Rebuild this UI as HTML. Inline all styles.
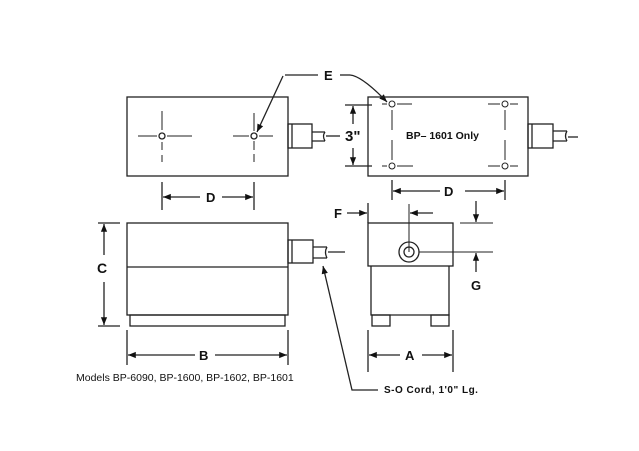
<!DOCTYPE html>
<html><head><style>body{margin:0;background:#fff}svg{display:block}text{font-family:"Liberation Sans",sans-serif;fill:#111}</style></head><body>
<svg width="639" height="451" viewBox="0 0 639 451" xmlns="http://www.w3.org/2000/svg">
<defs><marker id="a" viewBox="0 0 10 10" refX="10" refY="5" markerWidth="9" markerHeight="6" orient="auto-start-reverse"><path d="M0,1 L10,5 L0,9z" fill="#111"/></marker></defs>
<g stroke="#222" stroke-width="1.3" fill="none">
<rect x="127" y="97" width="161" height="79"/>
<rect x="288" y="124" width="24" height="24"/><line x1="292" y1="124" x2="292" y2="148"/>
<path d="M312 132 H325 M312 141 H325 M325 132 q-3 4 0 9"/><line x1="326" y1="136" x2="340" y2="136"/>
<circle cx="162" cy="136" r="3"/><circle cx="254" cy="136" r="3"/>
<g stroke-width="1"><path d="M138 136 H157 M167 136 H192 M162 111 V130 M162 142 V150 M162 155 V162"/>
<path d="M233 136 H249 M259 136 H273 M254 113 V131 M254 141 V150 M254 154 V162"/></g>
<line x1="162" y1="182" x2="162" y2="210"/><line x1="254" y1="182" x2="254" y2="210"/>
<line x1="163" y1="197" x2="200" y2="197" marker-start="url(#a)"/><line x1="222" y1="197" x2="253" y2="197" marker-end="url(#a)"/>
<path d="M285 75 H318" /><line x1="283" y1="76" x2="257" y2="132" marker-end="url(#a)"/>
<path d="M340 75 H350"/><path d="M350 75 Q362 76 387 102" marker-end="url(#a)"/>
<rect x="368" y="97" width="160" height="79"/>
<rect x="528" y="124" width="25" height="24"/><line x1="532" y1="124" x2="532" y2="148"/>
<path d="M553 131 H567 M553 141 H567 M567 131 q-3 5 0 10"/><line x1="568" y1="137" x2="578" y2="137"/>
<g stroke-width="1">
<circle cx="392" cy="104" r="3"/><circle cx="505" cy="104" r="3"/><circle cx="392" cy="166" r="3"/><circle cx="505" cy="166" r="3"/>
<path d="M382 104 H387 M397 104 H412 M392 110 V130 M392 140 V160 M382 166 H387 M397 166 H413"/>
<path d="M488 104 H500 M510 104 H518 M505 110 V130 M505 140 V160 M488 166 H500 M510 166 H518"/>
</g>
<line x1="345" y1="105" x2="372" y2="105"/><line x1="345" y1="166" x2="372" y2="166"/>
<line x1="353" y1="124" x2="353" y2="106" marker-end="url(#a)"/><line x1="353" y1="148" x2="353" y2="165" marker-end="url(#a)"/>
<line x1="392" y1="180" x2="392" y2="200"/><line x1="505" y1="180" x2="505" y2="200"/>
<line x1="393" y1="191" x2="440" y2="191" marker-start="url(#a)"/><line x1="465" y1="191" x2="504" y2="191" marker-end="url(#a)"/>
<rect x="127" y="223" width="161" height="92"/><line x1="127" y1="267" x2="288" y2="267"/>
<rect x="130" y="315" width="155" height="11"/>
<rect x="288" y="240" width="25" height="23"/><line x1="292" y1="240" x2="292" y2="263"/>
<path d="M313 247 H327 M313 258 H327 M327 247 q-3 5 0 11"/><line x1="328" y1="252" x2="345" y2="252"/>
<line x1="98" y1="223" x2="120" y2="223"/><line x1="98" y1="326" x2="120" y2="326"/>
<line x1="104" y1="255" x2="104" y2="224" marker-end="url(#a)"/><line x1="104" y1="282" x2="104" y2="325" marker-end="url(#a)"/>
<line x1="127" y1="330" x2="127" y2="365"/><line x1="288" y1="330" x2="288" y2="365"/>
<line x1="128" y1="355" x2="195" y2="355" marker-start="url(#a)"/><line x1="215" y1="355" x2="287" y2="355" marker-end="url(#a)"/>
<rect x="368" y="223" width="85" height="43"/>
<path d="M371 266 V315 H449 V266"/>
<rect x="372" y="315" width="18" height="11"/><rect x="431" y="315" width="18" height="11"/>
<circle cx="409" cy="252" r="10"/><circle cx="409" cy="252" r="5"/>
<line x1="409" y1="204" x2="409" y2="252" stroke-width="1"/>
<line x1="419" y1="252" x2="493" y2="252" stroke-width="1"/><line x1="460" y1="223" x2="493" y2="223" stroke-width="1"/>
<line x1="368" y1="203" x2="368" y2="223"/>
<line x1="347" y1="213" x2="367" y2="213" marker-end="url(#a)"/>
<line x1="433" y1="213" x2="410" y2="213" marker-end="url(#a)"/>
<line x1="476" y1="201" x2="476" y2="222" marker-end="url(#a)"/>
<line x1="476" y1="272" x2="476" y2="253" marker-end="url(#a)"/>
<line x1="368" y1="330" x2="368" y2="372"/><line x1="453" y1="330" x2="453" y2="372"/>
<line x1="369" y1="355" x2="400" y2="355" marker-start="url(#a)"/><line x1="422" y1="355" x2="452" y2="355" marker-end="url(#a)"/>
<path d="M378 390 H352 L323 266" marker-end="url(#a)"/>
</g>
<g font-weight="bold" font-size="13">
<text x="324" y="80">E</text>
<text x="206" y="202">D</text>
<text x="444" y="196">D</text>
<text x="345" y="141" font-size="15">3"</text>
<text x="97" y="273" font-size="14">C</text>
<text x="199" y="360">B</text>
<text x="405" y="360">A</text>
<text x="334" y="218">F</text>
<text x="471" y="290">G</text>
<text x="406" y="139" font-size="10.5">BP– 1601 Only</text>
<text x="384" y="393" font-size="10" letter-spacing="0.5">S-O  Cord, 1'0" Lg.</text>
</g>
<text x="76" y="381" font-size="10.5">Models BP-6090, BP-1600, BP-1602, BP-1601</text>
</svg>
</body></html>
